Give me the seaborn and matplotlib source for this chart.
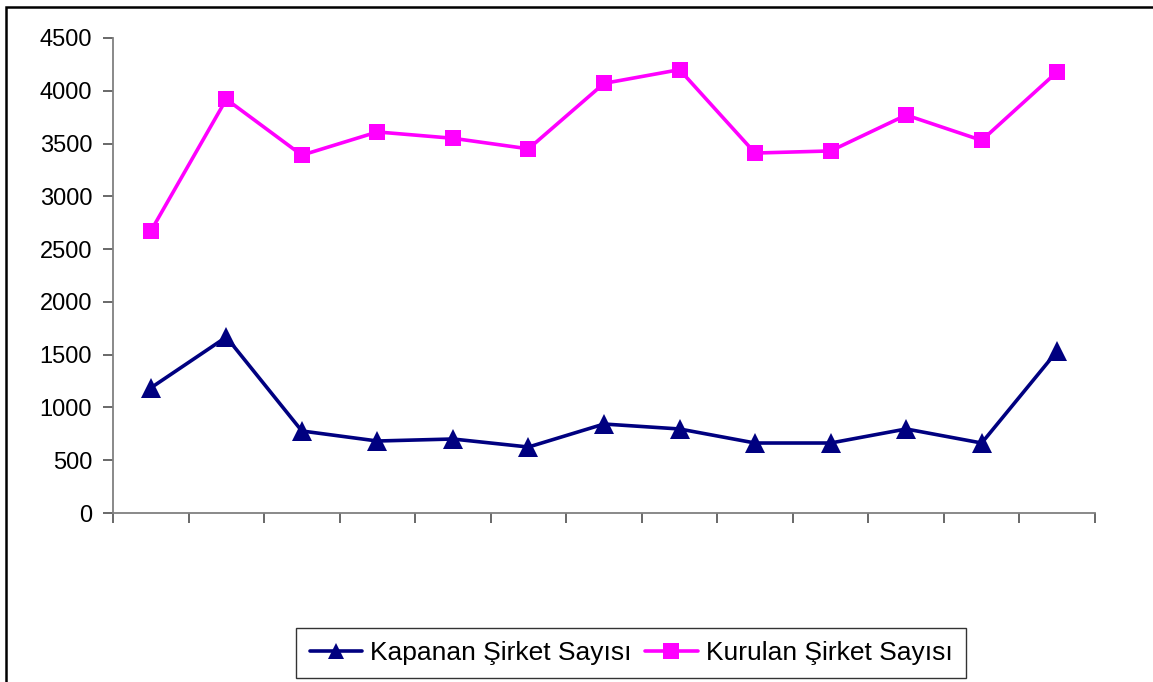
import numpy as np
import pandas as pd
import matplotlib
matplotlib.use("Agg")
import matplotlib.pyplot as plt
from matplotlib.patches import Rectangle
import seaborn as sns

# data
periods = list(range(13))
kapanan = [1185, 1667, 777, 682, 701, 625, 843, 796, 663, 663, 796, 663, 1535]
kurulan = [2670, 3920, 3390, 3610, 3550, 3450, 4070, 4200, 3410, 3430, 3770, 3530, 4180]
series_names = ["Kapanan Şirket Sayısı", "Kurulan Şirket Sayısı"]
yticks = [0, 500, 1000, 1500, 2000, 2500, 3000, 3500, 4000, 4500]

df = pd.DataFrame({
    "period": periods * 2,
    "value": kapanan + kurulan,
    "series": [series_names[0]] * 13 + [series_names[1]] * 13,
})

sns.set_theme(style="white")
plt.rcParams["font.family"] = ["Liberation Sans", "DejaVu Sans"]
plt.rcParams["text.color"] = "black"

fig = plt.figure(figsize=(11.53, 6.82), dpi=100)
ax = fig.add_axes([113 / 1153, 1 - 513 / 682, (1095 - 113) / 1153, (513 - 38) / 682])

sns.lineplot(data=df, x="period", y="value", hue="series", style="series",
             palette={series_names[0]: "#000080", series_names[1]: "#FF00FF"},
             markers={series_names[0]: "^", series_names[1]: "s"},
             dashes=False, linewidth=2.6, markersize=12, markeredgewidth=0,
             ax=ax)
# triangles a touch larger than squares, as in the reference
ax.lines[0].set_markersize(14)

ax.set_xlim(-0.5, 12.5)
ax.set_ylim(0, 4500)
ax.set_xticks(np.arange(-0.5, 13, 1))
ax.set_xticklabels([])
ax.set_yticks(yticks)
ax.set_yticklabels([str(v) for v in yticks], fontsize=17, color="black")
ax.set_xlabel("")
ax.set_ylabel("")
for side in ["top", "right"]:
    ax.spines[side].set_visible(False)
for side in ["left", "bottom"]:
    ax.spines[side].set_color("#808080")
    ax.spines[side].set_linewidth(1.3)
ax.tick_params(axis="both", direction="out", length=7, width=1.1, color="#404040",
               left=True, bottom=True, pad=8)

handles, labels = ax.get_legend_handles_labels()
ax.legend_.remove()
leg = fig.legend(handles, labels, loc="center", bbox_to_anchor=(631 / 1153, 1 - 653 / 682),
                 ncol=2, fontsize=19, frameon=True, fancybox=False, handlelength=2.0,
                 handletextpad=0.3, columnspacing=0.5, borderpad=0.5, borderaxespad=0)
leg.get_frame().set_edgecolor("black")
leg.get_frame().set_linewidth(1.0)
for t in leg.get_texts():
    t.set_color("black")

# outer chart frame
fig.patches.append(Rectangle((6 / 1153, -0.1), 1.2, 1.1 - 7 / 682, transform=fig.transFigure,
                             fill=False, edgecolor="black", linewidth=1.8))

fig.savefig("out.png", dpi=100)
